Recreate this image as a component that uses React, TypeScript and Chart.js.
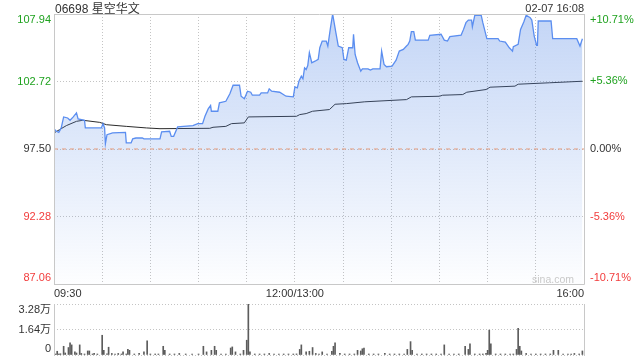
import React, { useEffect, useRef } from 'react';
import { Chart, registerables } from 'chart.js';

Chart.register(...registerables);

// ---- data ----
const titleText = '06698 星空华文';
const dateText = '02-07 16:08';
const prevClose = 97.5;

// minutes since 09:30 (trading minutes, lunch removed)
const priceMinutes = [
  0, 1.5, 3, 4.5, 6, 8.5, 10, 12, 14, 15,
  19, 19.5, 29.5, 30.5, 31.5, 32, 33, 36.5, 44.5, 45,
  48, 49, 51, 55, 56, 66, 67, 72, 73, 74.5,
  77, 86.5, 89.5, 92.5, 94, 96, 97.5, 98, 102, 103,
  107, 109.5, 111.5, 115.5, 116.5, 118.5, 120.5, 122.5, 123.5, 128,
  129, 133, 134, 135.5, 140.5, 144.5, 149, 150, 151.5, 152.5,
  154, 155, 156, 157, 158, 159, 160.5, 162.5, 164.5, 165.5,
  167, 169.5, 170.5, 172, 173.5, 175.5, 177, 179.5, 180.5, 182,
  183.5, 186, 186.5, 187.5, 189, 191, 192, 195.5, 197, 198.5,
  203, 204, 205.5, 207, 210.5, 213, 215, 217.5, 219.5, 220.5,
  221.5, 222.5, 224, 225, 233, 234, 241, 243, 245, 246.5,
  253.5, 255, 256.5, 258, 260, 260.5, 262, 266, 267, 269.5,
  276.5, 277.5, 281, 283.5, 285.5, 286, 289, 290.5, 292.5, 294,
  296.5, 297.5, 299, 300.5, 301, 301.5, 309.5, 310.5, 325.5, 327.5,
  329,
];
const priceValues = [
  99.05, 98.87, 98.79, 99.13, 99.98, 99.9, 99.72, 99.98, 100.29, 99.83,
  99.72, 99.13, 99.13, 99.46, 99.13, 97.91, 98.61, 98.74, 98.79, 97.97,
  97.97, 98.28, 98.35, 98.35, 98.28, 98.28, 98.82, 98.87, 98.48, 98.48,
  99.21, 99.31, 99.46, 99.46, 100.03, 100.6, 100.86, 100.42, 100.42, 101.07,
  101.19, 101.77, 102.43, 102.43, 101.58, 101.38, 101.97, 101.89, 101.66, 101.66,
  101.84, 101.84, 102.15, 101.97, 101.89, 101.58, 101.53, 102.31, 102.23, 102.74,
  103.13, 102.93, 103.78, 103.65, 103.96, 104.95, 104.17, 104.29, 104.43, 105.33,
  105.85, 105.85, 105.46, 106.75, 107.94, 106.5, 105.46, 105.33, 104.43, 104.37,
  105.33, 105.33, 106.37, 104.81, 104.17, 103.52, 103.7, 103.7, 103.6, 103.7,
  103.7, 105.07, 104.04, 103.86, 103.91, 104.37, 105.07, 105.2, 105.46, 105.59,
  105.85, 106.58, 106.58, 105.92, 105.92, 106.29, 106.37, 105.92, 105.85, 106.19,
  106.31, 106.75, 107.27, 107.47, 107.47, 106.96, 107.84, 107.84, 107.27, 106.03,
  106.03, 105.85, 105.77, 105.33, 105.07, 105.41, 105.59, 106.75, 107.32, 107.84,
  107.66, 107.47, 106.23, 105.51, 105.51, 107.4, 107.4, 106.03, 106.03, 105.46,
  106.03,
];

const avgMinutes = [
  0, 3.5, 7.7, 14, 18, 28.5, 32.6, 45, 57.5, 66,
  97, 99, 107, 110.5, 118.5, 121, 151, 153, 157, 161,
  171.5, 175, 182, 193.5, 219.5, 222.5, 240, 242, 254.5, 257,
  269, 271.5, 287, 289, 308.5, 329,
];
const avgValues = [
  98.74, 99.0, 99.31, 99.64, 99.72, 99.56, 99.38, 99.25, 99.13, 99.07,
  99.1, 99.18, 99.25, 99.46, 99.52, 99.98, 100.03, 100.16, 100.24, 100.42,
  100.55, 100.96, 101.01, 101.15, 101.32, 101.53, 101.58, 101.66, 101.71, 101.89,
  102.1, 102.28, 102.36, 102.51, 102.62, 102.74,
];

// volume in 万 shares
const volMinutes = [
  0, 1, 2, 3, 4, 6, 7, 9, 10, 11, 13, 14, 16, 17, 19, 21, 22, 24, 25, 27,
  30, 31, 33, 34, 36, 38, 40, 42, 43, 45, 46, 47, 50, 53, 56, 58, 60, 63, 65, 68,
  69, 72, 75, 78, 82, 86, 90, 93, 95, 98, 100, 101, 104, 107, 110, 111, 113, 116, 118, 120,
  121, 122, 125, 128, 131, 134, 137, 140, 143, 146, 149, 151, 153, 154, 157, 159, 161, 163, 165, 167,
  170, 173, 174, 175, 178, 181, 184, 187, 189, 191, 192, 193, 196, 199, 202, 206, 209, 212, 215, 218,
  220, 222, 223, 226, 229, 232, 235, 238, 241, 243, 246, 249, 252, 256, 258, 259, 262, 265, 267, 269,
  270, 271, 272, 275, 278, 281, 284, 286, 288, 289, 290, 291, 294, 297, 300, 303, 306, 309, 311, 314,
  317, 320, 322, 324, 327, 329,
];
const volValues = [
  0.3, 0.06, 0.24, 0.05, 0.08, 0.56, 0.13, 0.48, 0.78, 0.65, 0.2, 0.13, 0.65, 0.1, 0.05, 0.26, 0.26, 0.06, 0.1, 0.05,
  1.27, 0.3, 0.07, 0.5, 0.1, 0.05, 0.1, 0.06, 0.2, 0.05, 0.36, 0.3, 0.04, 0.1, 0.2, 0.91, 0.05, 0.06, 0.04, 0.56,
  0.3, 0.05, 0.06, 0.1, 0.04, 0.05, 0.06, 0.56, 0.2, 0.3, 0.56, 0.3, 0.05, 0.04, 0.45, 0.52, 0.2, 0.06, 0.3, 0.95,
  3.28, 0.2, 0.05, 0.04, 0.06, 0.1, 0.05, 0.04, 0.05, 0.06, 0.05, 0.07, 0.36, 0.65, 0.2, 0.24, 0.48, 0.1, 0.05, 0.2,
  0.06, 0.24, 0.56, 0.78, 0.1, 0.05, 0.04, 0.06, 0.3, 0.26, 0.4, 0.45, 0.05, 0.04, 0.06, 0.1, 0.05, 0.04, 0.06, 0.05,
  0.36, 0.86, 0.3, 0.05, 0.04, 0.06, 0.05, 0.04, 0.05, 0.65, 0.06, 0.05, 0.04, 0.56, 0.36, 0.72, 0.05, 0.06, 0.04, 0.1,
  0.3, 1.6, 0.72, 0.05, 0.04, 0.06, 0.05, 0.06, 0.36, 1.71, 0.56, 0.26, 0.1, 0.05, 0.04, 0.06, 0.05, 0.04, 0.3, 0.3,
  0.05, 0.06, 0.04, 0.1, 0.05, 0.26,
];

const priceTicks = [87.06, 92.28, 97.5, 102.72, 107.94];
const pctTicks = [-10.71, -5.36, 0, 5.36, 10.71];
const timeTicks = [0, 30, 60, 90, 120, 150, 180, 210, 240, 270, 300, 330];
const timeLabels: Record<number, string> = { 0: '09:30', 150: '12:00/13:00', 330: '16:00' };
const volTicks = [0, 1.64, 3.28];
const volTickLabels = ['0', '1.64万', '3.28万'];

// ---- styles ----
const FONT = 'Arial, "Liberation Sans", "Noto Sans CJK SC", sans-serif';
const GREEN = '#1fa21f';
const RED = '#f23c3c';
const TEXT = '#333333';
const GRID = '#c4c4c4';
const FRAME = '#c8c8c8';

Chart.defaults.font.family = FONT;

const edgeLabel = (text: string, index: number, count: number): string | string[] => {
  if (index === 0) return [text, ''];
  if (index === count - 1) return ['', text];
  return text;
};

const levelColor = (v: number, mid: number) =>
  v > mid + 1e-6 ? GREEN : v < mid - 1e-6 ? RED : TEXT;

const framePlugin = {
  id: 'frame',
  afterDatasetsDraw(chart: any, _args: any, opts: any) {
    const { ctx, chartArea } = chart;
    const { left, top, right, bottom } = chartArea;
    ctx.save();
    ctx.strokeStyle = FRAME;
    ctx.lineWidth = 1;
    ctx.beginPath();
    if (opts && opts.sidesOnly) {
      ctx.moveTo(left + 0.5, top);
      ctx.lineTo(left + 0.5, bottom + 1);
      ctx.moveTo(right + 0.5, top);
      ctx.lineTo(right + 0.5, bottom + 1);
    } else {
      ctx.rect(left + 0.5, top + 0.5, right - left, bottom - top);
    }
    ctx.stroke();
    ctx.restore();
  },
};

export default function App() {
  const mainRef = useRef<HTMLCanvasElement>(null);
  const volRef = useRef<HTMLCanvasElement>(null);

  useEffect(() => {
    const priceData = priceMinutes.map((m, i) => ({ x: m, y: priceValues[i] }));
    const avgData = avgMinutes.map((m, i) => ({ x: m, y: avgValues[i] }));
    const prevData = [
      { x: timeTicks[0], y: prevClose },
      { x: timeTicks[timeTicks.length - 1], y: prevClose },
    ];

    const main = new Chart(mainRef.current!, {
      type: 'line',
      data: {
        datasets: [
          {
            data: prevData,
            borderColor: '#e79b7d',
            borderWidth: 1,
            borderDash: [4, 4],
            pointRadius: 0,
            fill: false,
          },
          {
            data: priceData,
            borderColor: '#5b8ef0',
            borderWidth: 1.3,
            pointRadius: 0,
            tension: 0,
            fill: 'start',
            backgroundColor: (c: any) => {
              const area = c.chart.chartArea;
              if (!area) return 'rgba(90,140,230,0.2)';
              const g = c.chart.ctx.createLinearGradient(0, area.top, 0, area.bottom);
              g.addColorStop(0, 'rgba(90,140,230,0.36)');
              g.addColorStop(1, 'rgba(90,140,230,0.01)');
              return g;
            },
          },
          {
            data: avgData,
            borderColor: '#2a2a2a',
            borderWidth: 1,
            pointRadius: 0,
            tension: 0,
            fill: false,
          },
        ],
      },
      options: {
        responsive: false,
        animation: false,
        events: [],
        layout: { padding: { top: 14, bottom: 0, left: 0, right: 0 } },
        plugins: {
          legend: { display: false },
          tooltip: { enabled: false },
          title: { display: false },
          frame: {},
        } as any,
        scales: {
          x: {
            type: 'linear',
            position: 'bottom',
            min: timeTicks[0],
            max: timeTicks[timeTicks.length - 1],
            afterBuildTicks: (s: any) => {
              s.ticks = timeTicks.map((v) => ({ value: v }));
            },
            afterFit: (s: any) => {
              s.height = 14;
              s.paddingLeft = 0;
              s.paddingRight = 0;
            },
            ticks: {
              autoSkip: false,
              maxRotation: 0,
              align: 'inner',
              padding: 3,
              color: TEXT,
              font: { size: 11, family: FONT },
              callback: (v: any) => timeLabels[v as number] ?? '',
            },
            grid: { color: GRID, drawTicks: false, lineWidth: 1 },
            border: { display: false, dash: [1, 2] },
          },
          y: {
            type: 'linear',
            position: 'left',
            min: priceTicks[0],
            max: priceTicks[priceTicks.length - 1],
            afterBuildTicks: (s: any) => {
              s.ticks = priceTicks.map((v) => ({ value: v }));
            },
            afterFit: (s: any) => {
              s.width = 54;
              s.paddingTop = 0;
              s.paddingBottom = 0;
            },
            ticks: {
              autoSkip: false,
              padding: 3,
              font: { size: 11, family: FONT, lineHeight: 1.05 },
              color: (c: any) => levelColor(c.tick.value, prevClose),
              callback: (v: any, i: number, arr: any[]) =>
                edgeLabel((v as number).toFixed(2), i, arr.length),
            },
            grid: { color: GRID, drawTicks: false, lineWidth: 1 },
            border: { display: false, dash: [1, 2] },
          },
          yPct: {
            type: 'linear',
            position: 'right',
            min: pctTicks[0],
            max: pctTicks[pctTicks.length - 1],
            afterBuildTicks: (s: any) => {
              s.ticks = pctTicks.map((v) => ({ value: v }));
            },
            afterFit: (s: any) => {
              s.width = 56;
              s.paddingTop = 0;
              s.paddingBottom = 0;
            },
            ticks: {
              autoSkip: false,
              padding: 6,
              font: { size: 11, family: FONT, lineHeight: 1.05 },
              color: (c: any) => levelColor(c.tick.value, 0),
              callback: (v: any, i: number, arr: any[]) => {
                const n = v as number;
                const t = (n > 0 ? '+' : '') + n.toFixed(2) + '%';
                return edgeLabel(t, i, arr.length);
              },
            },
            grid: { display: false, drawTicks: false },
            border: { display: false },
          },
        },
      } as any,
      plugins: [framePlugin],
    });

    const volData = volMinutes.map((m, i) => ({ x: m, y: volValues[i] }));
    const vol = new Chart(volRef.current!, {
      type: 'bar',
      data: {
        datasets: [
          {
            data: volData,
            backgroundColor: '#5c5c5c',
            barThickness: 1,
            minBarLength: 1,
            grouped: false,
          } as any,
        ],
      },
      options: {
        responsive: false,
        animation: false,
        events: [],
        layout: { padding: { top: 6, bottom: 5, left: 0, right: 56 } },
        plugins: {
          legend: { display: false },
          tooltip: { enabled: false },
          frame: { sidesOnly: true },
        } as any,
        scales: {
          x: {
            type: 'linear',
            min: timeTicks[0],
            max: timeTicks[timeTicks.length - 1],
            display: false,
            offset: false,
          },
          y: {
            type: 'linear',
            position: 'left',
            min: volTicks[0],
            max: volTicks[volTicks.length - 1],
            afterBuildTicks: (s: any) => {
              s.ticks = volTicks.map((v) => ({ value: v }));
            },
            afterFit: (s: any) => {
              s.width = 54;
              s.paddingTop = 0;
              s.paddingBottom = 0;
            },
            ticks: {
              autoSkip: false,
              padding: 3,
              color: TEXT,
              font: { size: 11, family: FONT, lineHeight: 1.05 },
              callback: (_v: any, i: number, arr: any[]) =>
                edgeLabel(volTickLabels[i], i, arr.length),
            },
            grid: { color: GRID, drawTicks: false, lineWidth: 1 },
            border: { display: false, dash: [1, 2] },
          },
        },
      } as any,
      plugins: [framePlugin],
    });

    return () => {
      main.destroy();
      vol.destroy();
    };
  }, []);

  return (
    <div
      style={{
        position: 'fixed',
        left: 0,
        top: 0,
        width: 640,
        height: 360,
        background: '#ffffff',
        fontFamily: FONT,
        color: TEXT,
        overflow: 'hidden',
      }}
    >
      <canvas
        ref={mainRef}
        width={640}
        height={298}
        style={{ position: 'absolute', left: 0, top: 0, display: 'block' }}
      />
      <canvas
        ref={volRef}
        width={640}
        height={62}
        style={{ position: 'absolute', left: 0, top: 298, display: 'block' }}
      />
      <div
        style={{
          position: 'absolute',
          left: 55,
          top: 3,
          fontSize: 12,
          lineHeight: '12px',
          whiteSpace: 'nowrap',
        }}
      >
        {titleText}
      </div>
      <div
        style={{
          position: 'absolute',
          right: 56,
          top: 3,
          fontSize: 11,
          lineHeight: '11px',
          whiteSpace: 'nowrap',
        }}
      >
        {dateText}
      </div>
      <div
        style={{
          position: 'absolute',
          left: 532,
          top: 274,
          fontSize: 10.5,
          lineHeight: '10.5px',
          color: '#c9c9c9',
          whiteSpace: 'nowrap',
        }}
      >
        sina.com
      </div>
    </div>
  );
}
